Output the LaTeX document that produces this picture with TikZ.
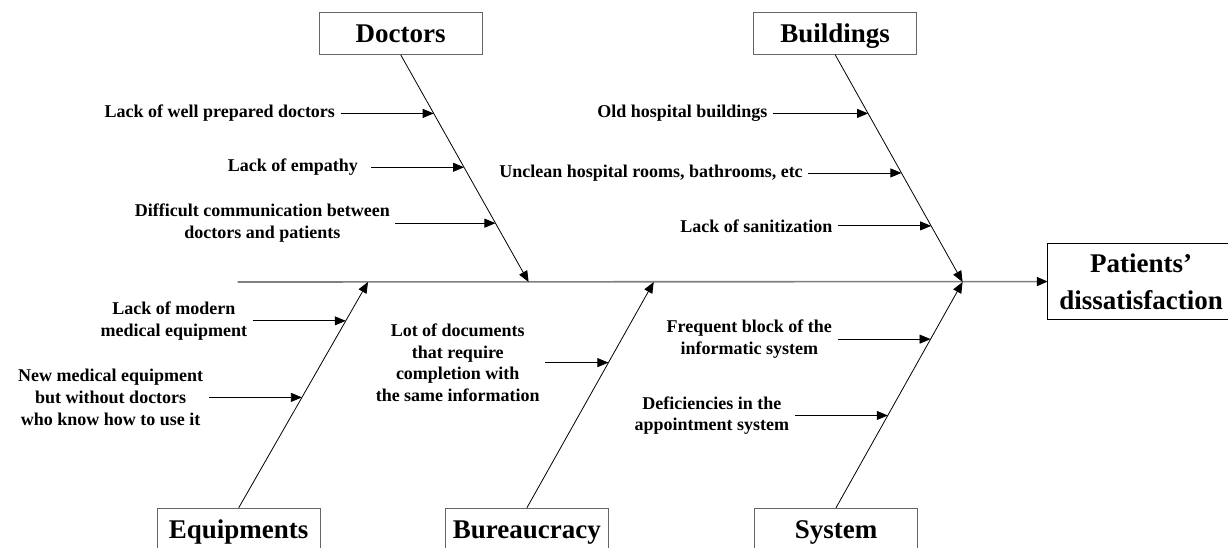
\documentclass[tikz,border=0pt]{standalone}
\usepackage{fontspec}
\setmainfont{Liberation Serif}
\usetikzlibrary{arrows.meta,positioning}

\begin{document}
\begin{tikzpicture}[x=1pt,y=-1pt,node distance=93pt,>={Triangle[length=11pt,width=9pt]},
    group/.style={draw=black!60,line width=1pt,minimum width=163pt,minimum height=41.6pt,inner sep=0pt,
        text height=18pt,text depth=0pt,font=\fontsize{27}{36}\selectfont\bfseries},
    cause/.style={align=center,inner xsep=5.5pt,inner ysep=1pt,font=\fontsize{18}{21.7}\selectfont\bfseries},
    bone/.style={->,line width=.8pt},
    link/.style={->,line width=.8pt},
    spine/.style={-{Triangle[length=11pt,width=9pt,color=black]},draw=black!50,line width=1.6pt}]
    \useasboundingbox (0,0) rectangle (1228,547);

    \node[group]  (doctors)   at (400.7,33.5)                {Doctors};
    \node[group]  (buildings) [right=270.5pt of doctors]     {Buildings};
    \node[group]  (equip)     at (238.7,529.1)               {Equipments};
    \node[group]  (bureau)    [right=124.2pt of equip]       {Bureaucracy};
    \node[group]  (system)    [right=145.1pt of bureau]      {System};
    \node[minimum width=186pt,minimum height=75pt,align=center,
        font=\fontsize{27}{36.7}\selectfont\bfseries] (effect) at (1141,281.5) {Patients’\\dissatisfaction};
    % frame runs past the right edge of the page
    \draw[line width=1pt] (effect.north west) rectangle ([xshift=20pt]effect.south east);

    \coordinate (tail) at (237.5,282);
    \coordinate (dtip) at (528.6,282);
    \coordinate (btip) at (962.6,282);
    \coordinate (etip) at (368,282);
    \coordinate (rtip) at (653.7,282);
    \coordinate (stip) at (962.6,282);

    \draw[spine] (tail) -- (effect);
    \draw[bone] (doctors.south) -- (dtip) coordinate[pos=.258] (d1) coordinate[pos=.495] (d2) coordinate[pos=.741] (d3);
    \draw[bone] (buildings.south) -- (btip) coordinate[pos=.258] (b1) coordinate[pos=.52] (b2) coordinate[pos=.753] (b3);
    \draw[bone] (equip.north) -- (etip) coordinate[pos=.828] (e1) coordinate[pos=.489] (e2);
    \draw[bone] (bureau.north) -- (rtip) coordinate[pos=.643] (r1);
    \draw[bone] (system.north) -- (stip) coordinate[pos=.747] (s1) coordinate[pos=.409] (s2);

    \node[cause]  (ld1) [left=of d1]                 {Lack of well prepared doctors};
    \node[cause,inner xsep=13pt] (ld2) [left=of d2]  {Lack of empathy};
    \node[cause]  (ld3) [left=100pt of d3]           {Difficult communication between\\doctors and patients};
    \node[cause]  (lb1) [left=95pt of b1]            {Old hospital buildings};
    \node[cause]  (lb2) [left=of b2]                 {Unclean hospital rooms, bathrooms, etc};
    \node[cause]  (lb3) [left=of b3]                 {Lack of sanitization};
    \node[cause]  (le1) [left=of e1]                 {Lack of modern\\medical equipment};
    \node[cause]  (le2) [left=of e2]                 {New medical equipment\\but without doctors\\who know how to use it};
    \node[cause]  (lr1) [left=63pt of r1]            {Lot of documents\\that require\\completion with\\the same information};
    \node[cause]  (ls1) [left=of s1]                 {Frequent block of the\\informatic system};
    \node[cause]  (ls2) [left=of s2]                 {Deficiencies in the\\appointment system};

    \path[link] (ld1) edge (d1)
                (ld2) edge (d2)
                (ld3) edge (d3)
                (lb1) edge (b1)
                (lb2) edge (b2)
                (lb3) edge (b3)
                (le1) edge (e1)
                (le2) edge (e2)
                (lr1) edge (r1)
                (ls1) edge (s1)
                (ls2) edge (s2);
\end{tikzpicture}
\end{document}
